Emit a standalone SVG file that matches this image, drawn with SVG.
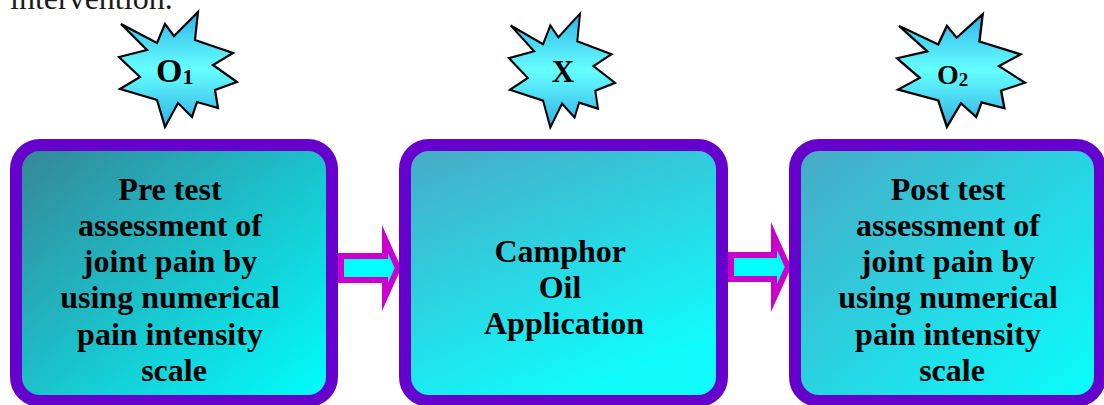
<svg xmlns="http://www.w3.org/2000/svg" xmlns:xlink="http://www.w3.org/1999/xlink" width="1104" height="405" viewBox="0 0 1104 405">
  <style>
    .box { stroke: #6600CC; stroke-width: 12; }
    .label { font-family: "Liberation Serif", "Times New Roman", serif; font-weight: bold; font-size: 32px; fill: #000; text-anchor: middle; }
    .star { stroke: #000; stroke-width: 2.2; stroke-linejoin: miter; fill: url(#starFill); }
    .mark { font-family: "Liberation Serif", "Times New Roman", serif; font-weight: bold; fill: #000; }
    .arrow { fill: #00FFFF; stroke: #CC00CC; stroke-width: 6; stroke-linejoin: miter; stroke-miterlimit: 10; }
    .lead { font-family: "Liberation Serif", "Times New Roman", serif; font-size: 32px; fill: #1A1A1A; }
  </style>
  <defs>
    <linearGradient id="starFill" x1="0" y1="0" x2="0" y2="1">
      <stop offset="0" stop-color="#2FB4EA"/>
      <stop offset="0.5" stop-color="#66FFFF"/>
      <stop offset="1" stop-color="#2FB0E6"/>
    </linearGradient>
    <linearGradient id="boxFillA" x1="0" y1="0" x2="1" y2="1">
      <stop offset="0" stop-color="#378496"/>
      <stop offset="1" stop-color="#00FFFF"/>
    </linearGradient>
    <linearGradient id="boxFillB" x1="0" y1="0" x2="0.5" y2="1">
      <stop offset="0" stop-color="#4AA8C4"/>
      <stop offset="1" stop-color="#10FCFC"/>
    </linearGradient>
    <linearGradient id="boxFillC" x1="0" y1="0" x2="1" y2="1">
      <stop offset="0" stop-color="#4AA8C4"/>
      <stop offset="1" stop-color="#08FFFF"/>
    </linearGradient>
    <!-- explosion burst, centred on the origin -->
    <path id="burst" d="M-57,-46 L-21,-27 L-13,-46 L-4,-34 L20,-58 L17,-30 L55,-17 L35,-5 L59,12 L37,20 L40,38 L19,32 L14,47 L0,33 L-13,57 L-21,30 L-58,19 L-38,7 L-59,-13 L-31,-20 Z"/>
  </defs>

  <rect width="1104" height="405" fill="#FFFFFF"/>

  <!-- end of the preceding sentence -->
  <text class="lead" x="10" y="9">intervention.</text>

  <g id="connectors">
    <path class="arrow" d="M341,256 L385,256 L385,239 L398,268 L385,297 L385,280 L341,280 Z"/>
    <path class="arrow" d="M731,255 L774,255 L774,236 L788,267 L774,298 L774,279 L731,279 Z"/>
  </g>

  <g id="pretest">
    <rect class="box" x="16" y="145" width="316" height="256" rx="24" fill="url(#boxFillA)"/>
    <text class="label">
      <tspan x="174" y="200">Pre test</tspan>
      <tspan x="174" y="236">assessment of</tspan>
      <tspan x="174" y="272">joint pain by</tspan>
      <tspan x="174" y="308">using numerical</tspan>
      <tspan x="174" y="345">pain intensity</tspan>
      <tspan x="174" y="381">scale</tspan>
    </text>
  </g>

  <g id="intervention">
    <rect class="box" x="405" y="145" width="317" height="256" rx="24" fill="url(#boxFillB)"/>
    <text class="label">
      <tspan x="564" y="262">Camphor</tspan>
      <tspan x="564" y="298">Oil</tspan>
      <tspan x="564" y="334">Application</tspan>
    </text>
  </g>

  <g id="posttest">
    <rect class="box" x="795" y="145" width="305" height="256" rx="24" fill="url(#boxFillC)"/>
    <text class="label">
      <tspan x="952" y="200">Post test</tspan>
      <tspan x="952" y="236">assessment of</tspan>
      <tspan x="952" y="272">joint pain by</tspan>
      <tspan x="952" y="308">using numerical</tspan>
      <tspan x="952" y="345">pain intensity</tspan>
      <tspan x="952" y="381">scale</tspan>
    </text>
  </g>

  <g id="star-o1">
    <use xlink:href="#burst" class="star" transform="translate(178,70)"/>
    <text class="mark" x="156" y="82" font-size="34">O<tspan font-size="22" dy="2">1</tspan></text>
  </g>

  <g id="star-x">
    <use xlink:href="#burst" class="star" transform="translate(562,71) scale(0.9,0.99)"/>
    <text class="mark" x="563" y="82" font-size="31" text-anchor="middle">X</text>
  </g>

  <g id="star-o2">
    <use xlink:href="#burst" class="star" transform="translate(961,71) scale(1.085,0.98)"/>
    <text class="mark" x="937" y="84" font-size="28">O<tspan font-size="19" dy="2">2</tspan></text>
  </g>
</svg>
